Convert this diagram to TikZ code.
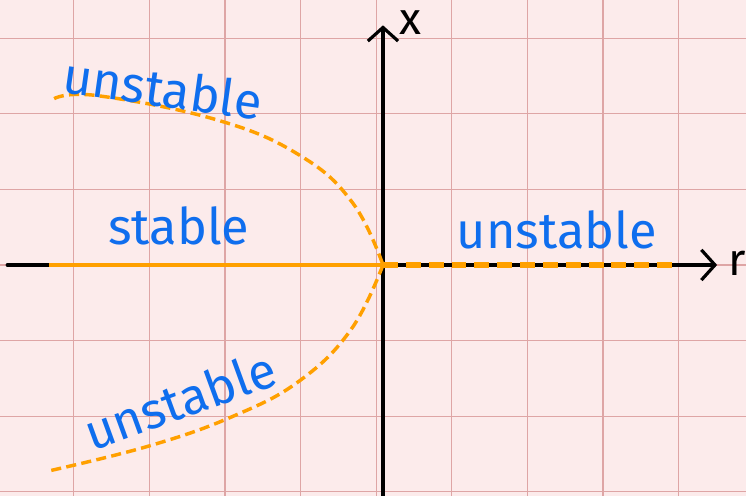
\documentclass[tikz,border=0pt]{standalone}
\usepackage{fontspec}
\setmainfont{Fira Sans}
\usetikzlibrary{arrows.meta}
\definecolor{paper}{RGB}{252,235,235}
\definecolor{gridred}{RGB}{222,165,165}
\definecolor{inkblue}{RGB}{15,110,238}
\definecolor{branch}{RGB}{255,160,0}
\tikzset{
  gridline/.style={gridred, line width=0.5pt},
  axisline/.style={black, line width=1.2pt, line cap=round, -{Straight Barb[length=1.8mm, width=4mm, line width=1.2pt]}},
  label/.style={inkblue, font=\fontsize{19}{21}\selectfont, inner sep=0pt},
  axislabel/.style={black, font=\fontsize{17}{19}\selectfont, inner sep=0pt},
  halfbranch/.style={branch, line width=1.3pt, dash pattern=on 3.8pt off 2pt}
}
\begin{document}
\begin{tikzpicture}
  \fill[paper] (-5.066,-3.056) rectangle (4.802,3.505);
  \useasboundingbox (-5.066,-3.056) rectangle (4.802,3.505);
  % grid paper
  \foreach \i in {-4,...,4} \draw[gridline] (\i-0.09,-3.056) -- (\i-0.09,3.505);
  \foreach \j in {-3,...,3} \draw[gridline] (-5.066,\j) -- (4.802,\j);
  % axes
  \coordinate (o) at (0,0);
  \draw[axisline] (-4.97,0) -- (4.42,0);
  \draw[axisline] (0,-3.1) -- (0,3.17);
  \node[axislabel] (xlab) at (0.36,3.2) {x};
  \node[axislabel] (rlab) at (4.68,0.02) {r};
  % branches
  \draw[branch, line width=1.5pt] (-4.42,0) -- (o);
  \draw[branch, line width=2.6pt, dash pattern=on 5.6pt off 3pt] (o) -- (3.9,0);
  \draw[halfbranch] plot[smooth, tension=0.7] coordinates {(-4.35,2.20) (-3.78,2.24) (-2.20,1.92) (-1.10,1.45) (-0.40,0.82) (0,0)};
  \draw[halfbranch] plot[smooth, tension=0.7] coordinates {(0,0) (-0.42,-0.85) (-1.10,-1.53) (-1.98,-2.00) (-3.08,-2.39) (-4.40,-2.72)};
  % stability labels
  \node[label, rotate=-8] (uptop) at (-2.91,2.34) {unstable};
  \node[label] (st) at (-2.70,0.52) {stable};
  \node[label] (upright) at (2.30,0.46) {unstable};
  \node[label, rotate=20] (upbot) at (-2.69,-1.79) {unstable};
\end{tikzpicture}
\end{document}
